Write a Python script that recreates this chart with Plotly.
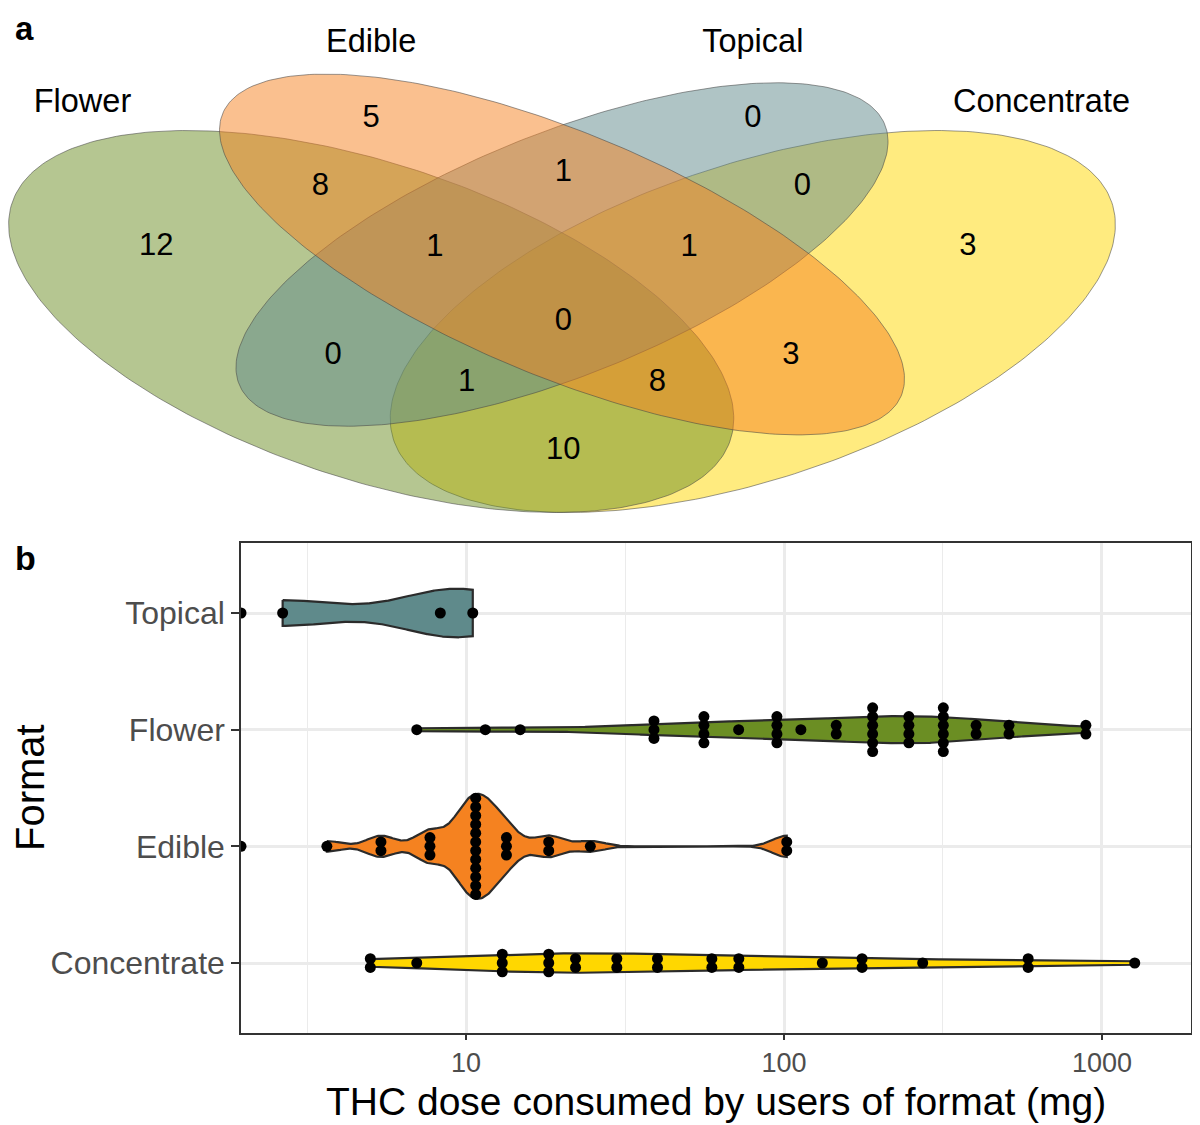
import numpy as np
import plotly.graph_objects as go

# ---------------- panel a: Venn diagram counts ----------------
set_names = ['Flower', 'Edible', 'Topical', 'Concentrate']
set_colors = ['#6B8E23', '#F58220', '#5F8A8B', '#FFD700']

# regions: F=Flower, E=Edible, T=Topical, C=Concentrate
region_keys = ['F', 'E', 'T', 'C', 'FE', 'ET', 'TC', 'FET', 'ETC',
               'FETC', 'FT', 'EC', 'FTC', 'FEC', 'FC']
region_counts = [12, 5, 0, 3, 8, 1, 0, 1, 1, 0, 0, 3, 1, 8, 10]

# ---------------- panel b: THC dose per user (mg) ----------------
formats = ['Concentrate', 'Edible', 'Flower', 'Topical']   # bottom -> top
format_colors = ['#FFD700', '#F58220', '#6B8E23', '#5F8A8B']

topical_dose = [0, 2.65, 8.3, 10.5]
flower_dose = [7, 11.5, 14.8, 39, 39, 39, 56, 56, 56, 56, 72, 95, 95, 95, 95, 113,
               146, 146, 190, 190, 190, 190, 190, 190, 247, 247, 247, 247,
               317, 317, 317, 317, 317, 317, 402, 402, 510, 510, 890, 890]
edible_dose = [0, 3.65, 5.4, 5.4, 7.7, 7.7, 7.7, 10, 10, 10, 10, 10, 10,
               11.5, 11.5, 11.5, 11.5, 11.5, 11.5, 13.4, 13.4, 13.4,
               18.2, 18.2, 24.6, 102, 102]
concentrate_dose = [5, 5, 7, 13, 13, 13, 18.2, 18.2, 18.2, 22.1, 22.1, 29.8, 29.8,
                    40, 40, 59.3, 59.3, 72.1, 72.1, 132, 176, 176, 273, 586, 586, 1268]

x_tick_vals = [10, 100, 1000]
x_tick_text = ['10', '100', '1000']

FONT = 'Liberation Sans, Arial, sans-serif'
PAGE_OFF = 8                      # default body margin of the html page
W, H = 1200 - 2 * PAGE_OFF, 1125 - PAGE_OFF


def px(p):
    return (p - PAGE_OFF) / W


def py(p):
    return 1 - (p - PAGE_OFF) / H


# ---- Venn geometry (unit square, VennDiagram-style quad layout) ----
ellipse_center = [(0.35, 0.47), (0.50, 0.57), (0.50, 0.57), (0.65, 0.47)]
ellipse_axes = [(0.35, 0.20), (0.35, 0.15), (0.33, 0.15), (0.35, 0.20)]
ellipse_angle = [135, 135, 45, 45]
draw_order = [3, 0, 2, 1]
region_pos = [(0.181, 0.581), (0.350, 0.772), (0.650, 0.772), (0.819, 0.581),
              (0.310, 0.671), (0.501, 0.692), (0.689, 0.671), (0.400, 0.580),
              (0.600, 0.580), (0.501, 0.469), (0.320, 0.418), (0.680, 0.418),
              (0.425, 0.378), (0.575, 0.378), (0.501, 0.277)]
set_label_pos = [(0.123, 0.795), (0.350, 0.884), (0.650, 0.884), (0.877, 0.795)]

# page-pixel mapping of the unit square
vx0, vsx = -74.0, 1272.0
vy0, vsy = 636.4, 670.0
venn_bottom = 540


def ellipse_xy(center, axes, angle, n=300):
    phi = np.linspace(0, 2 * np.pi, n)
    t = np.deg2rad(angle)
    a, b = axes
    x = center[0] + a * np.cos(phi) * np.cos(t) - b * np.sin(phi) * np.sin(t)
    y = center[1] + a * np.cos(phi) * np.sin(t) + b * np.sin(phi) * np.cos(t)
    return x, y


def bw_nrd0(x):
    sd = np.std(x, ddof=1)
    q75, q25 = np.percentile(x, [75, 25])
    lo = min(sd, (q75 - q25) / 1.34)
    if lo <= 0:
        lo = sd if sd > 0 else 1.0
    return 0.9 * lo * len(x) ** -0.2


def log_density(lx):
    bw = bw_nrd0(lx)
    grid = np.linspace(lx.min(), lx.max(), 512)
    z = (grid[:, None] - lx[None, :]) / bw
    dens = np.exp(-0.5 * z ** 2).sum(axis=1) / (len(lx) * bw * np.sqrt(2 * np.pi))
    return grid, dens


def dot_bins(lx, binwidth):
    # dot-density binning: each stack sits at the middle of the values it holds
    lx = np.sort(lx)
    centers, counts = [], []
    i = 0
    while i < len(lx):
        j = i
        while j + 1 < len(lx) and lx[j + 1] < lx[i] + binwidth:
            j += 1
        centers.append((lx[i] + lx[j]) / 2)
        counts.append(j - i + 1)
        i = j + 1
    return centers, counts


fig = go.Figure()

# ---------------- Venn ----------------
for i in draw_order:
    ex, ey = ellipse_xy(ellipse_center[i], ellipse_axes[i], ellipse_angle[i])
    r, g, b = (int(set_colors[i][k:k + 2], 16) for k in (1, 3, 5))
    fig.add_trace(go.Scatter(x=ex, y=ey, mode='lines', fill='toself',
                             fillcolor=f'rgba({r},{g},{b},0.5)',
                             line=dict(color='rgba(70,70,70,0.55)', width=1),
                             hoverinfo='skip', showlegend=False,
                             xaxis='x2', yaxis='y2'))

fig.add_trace(go.Scatter(x=[p[0] for p in region_pos], y=[p[1] for p in region_pos],
                         mode='text', text=[str(c) for c in region_counts],
                         textfont=dict(family=FONT, size=31, color='black'),
                         hoverinfo='skip', showlegend=False, xaxis='x2', yaxis='y2'))
fig.add_trace(go.Scatter(x=[p[0] for p in set_label_pos], y=[p[1] for p in set_label_pos],
                         mode='text', text=set_names,
                         textfont=dict(family=FONT, size=32.5, color='black'),
                         hoverinfo='skip', showlegend=False, xaxis='x2', yaxis='y2'))

# ---------------- violins + dot stacks ----------------
doses = [concentrate_dose, edible_dose, flower_dose, topical_dose]

x_lo_log, x_hi_log = np.log10(1.96), 3.28
dot_binwidth = 0.065
dot_step = 0.075
violin_half = 0.45

logs = []
for d in doses:
    v = np.array(d, dtype=float)
    logs.append(np.log10(v[v > 0]))   # log10(0) = -Inf: left out of the density
dens_all = [log_density(lx) for lx in logs]
dens_max = max(dd.max() for _, dd in dens_all)

for pos, (name, col) in enumerate(zip(formats, format_colors)):
    grid, dens = dens_all[pos]
    hw = dens / dens_max * violin_half
    vx = 10 ** np.concatenate([grid, grid[::-1]])
    vy = pos + np.concatenate([hw, -hw[::-1]])
    fig.add_trace(go.Scatter(x=np.append(vx, vx[0]), y=np.append(vy, vy[0]),
                             mode='lines', fill='toself', fillcolor=col,
                             line=dict(color='#2b2b2b', width=2.2),
                             name=name, showlegend=False, hoverinfo='skip'))

    centers, counts = dot_bins(logs[pos], dot_binwidth)
    n_zero = sum(1 for d in doses[pos] if d <= 0)
    if n_zero:
        centers = [x_lo_log] + centers   # -Inf drawn on the panel edge
        counts = [n_zero] + counts
    dx, dy = [], []
    for c, n in zip(centers, counts):
        for k in range(n):
            dx.append(10 ** c)
            dy.append(pos + (k - (n - 1) / 2) * dot_step)
    fig.add_trace(go.Scatter(x=dx, y=dy, mode='markers',
                             marker=dict(color='black', size=11),
                             showlegend=False, hoverinfo='skip'))

# ---------------- layout ----------------
panel_l, panel_r, panel_t, panel_b = 241, 1191, 543, 1033
grid_col = '#EBEBEB'

fig.update_layout(
    width=W, height=H, margin=dict(l=0, r=0, t=0, b=0),
    paper_bgcolor='white', plot_bgcolor='white', showlegend=False,
    font=dict(family=FONT, color='black'),
    xaxis=dict(type='log', range=[x_lo_log, x_hi_log],
               domain=[px(panel_l), px(panel_r)], anchor='y',
               tickmode='array', tickvals=x_tick_vals, ticktext=x_tick_text,
               ticks='outside', ticklen=5, tickwidth=2, tickcolor='#333333',
               tickfont=dict(family=FONT, size=27, color='#4D4D4D'),
               showgrid=True, gridcolor=grid_col, gridwidth=2.5,
               minor=dict(tickvals=[10 ** 0.5, 10 ** 1.5, 10 ** 2.5], showgrid=True,
                          gridcolor=grid_col, gridwidth=1.3, ticks=''),
               showline=True, linecolor='#333333', linewidth=1.5, mirror=True,
               zeroline=False, automargin=False),
    yaxis=dict(range=[-0.6, 3.6], domain=[py(panel_b), py(panel_t)], anchor='x',
               tickmode='array', tickvals=list(range(len(formats))), ticktext=formats,
               ticks='outside', ticklen=8, tickwidth=2, tickcolor='#333333',
               tickfont=dict(family=FONT, size=32, color='#4D4D4D'),
               showgrid=True, gridcolor=grid_col, gridwidth=2.5,
               showline=True, linecolor='#333333', linewidth=1.5, mirror=True,
               zeroline=False, automargin=False),
    xaxis2=dict(range=[(PAGE_OFF - vx0) / vsx, (PAGE_OFF + W - vx0) / vsx], domain=[0, 1],
                anchor='y2', visible=False, showgrid=False, zeroline=False),
    yaxis2=dict(range=[(vy0 - venn_bottom) / vsy, (vy0 - PAGE_OFF) / vsy],
                domain=[py(venn_bottom), 1], anchor='x2',
                visible=False, showgrid=False, zeroline=False),
    annotations=[
        dict(text='<b>a</b>', x=px(24), y=py(28), xref='paper', yref='paper',
             xanchor='center', yanchor='middle', showarrow=False,
             font=dict(family=FONT, size=33, color='black')),
        dict(text='<b>b</b>', x=px(25), y=py(558), xref='paper', yref='paper',
             xanchor='center', yanchor='middle', showarrow=False,
             font=dict(family=FONT, size=34, color='black')),
        dict(text='THC dose consumed by users of format (mg)',
             x=px((panel_l + panel_r) / 2), y=py(1101), xref='paper', yref='paper',
             xanchor='center', yanchor='middle', showarrow=False,
             font=dict(family=FONT, size=39, color='black')),
        dict(text='Format', textangle=-90, x=px(30), y=py((panel_t + panel_b) / 2),
             xref='paper', yref='paper', xanchor='center', yanchor='middle',
             showarrow=False, font=dict(family=FONT, size=40, color='black')),
    ],
)

fig.write_html('out.html')
